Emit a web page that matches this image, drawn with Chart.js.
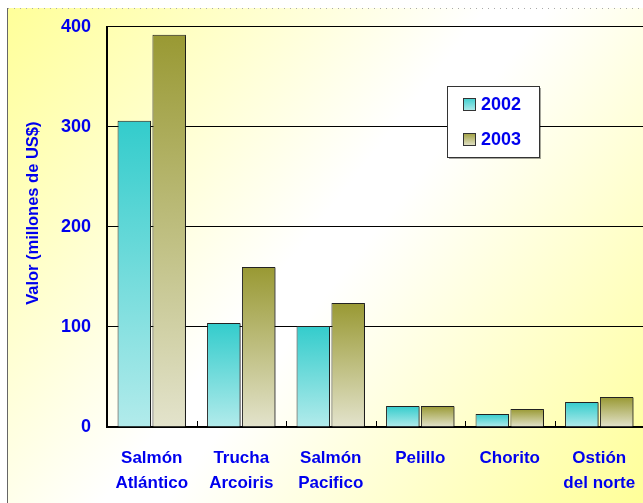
<!DOCTYPE html>
<html>
<head>
  <meta charset="UTF-8">
  <title>Valor exportaciones 2002-2003</title>
  <script src="https://cdn.jsdelivr.net/npm/chart.js"></script>
  <style>
    body {
      margin: 0;
      overflow: hidden;
      background: #fff;
    }
    #wrap {
      width: 648px;
      height: 503px;
    }
  </style>
</head>
<body>
  <div id="wrap"><canvas id="grafico" width="648" height="503"></canvas></div>

  <script>
    const especies = [
      ['Salmón', 'Atlántico'],
      ['Trucha', 'Arcoiris'],
      ['Salmón', 'Pacifico'],
      'Pelillo',
      'Chorito',
      ['Ostión', 'del norte']
    ];
    const anios = ['2002', '2003'];
    const valores2002 = [306, 104, 101, 21, 13, 25];
    const valores2003 = [392, 160, 124, 21, 18, 30];
    const ejeY = { min: 0, max: 400, paso: 100 };
    const tituloY = 'Valor (millones de US$)';

    const azul = '#0000ee';
    const fuente = "'Liberation Sans', Arial, sans-serif";
    const colores = [
      { arriba: '#33cccc', abajo: '#b2ebeb' },
      { arriba: '#999933', abajo: '#e3e3cc' }
    ];

    // degradado de cada barra, de su tope a la base
    function degradado(i) {
      return function (c) {
        const chart = c.chart;
        const y = chart.scales.y;
        if (!chart.chartArea || c.raw == null) return colores[i].arriba;
        const top = y.getPixelForValue(c.raw);
        const base = y.getPixelForValue(0);
        const g = chart.ctx.createLinearGradient(0, top, 0, base);
        g.addColorStop(0, colores[i].arriba);
        g.addColorStop(1, colores[i].abajo);
        return g;
      };
    }

    const fondo = {
      id: 'fondo',
      beforeDraw(chart) {
        const ctx = chart.ctx;
        const w = chart.width, h = chart.height;
        ctx.save();
        ctx.fillStyle = '#ffffff';
        ctx.fillRect(0, 0, w, h);
        const g = ctx.createLinearGradient(7, 8, 643, 503);
        g.addColorStop(0, '#ffff99');
        g.addColorStop(0.47, '#ffffff');
        g.addColorStop(0.53, '#ffffff');
        g.addColorStop(1, '#ffff99');
        ctx.fillStyle = g;
        ctx.fillRect(7, 8, w - 7, h - 8);
        // borde punteado superior y linea izquierda
        ctx.strokeStyle = '#aaaaaa';
        ctx.setLineDash([1, 5]);
        ctx.beginPath();
        ctx.moveTo(8, 8.5);
        ctx.lineTo(w, 8.5);
        ctx.stroke();
        ctx.setLineDash([]);
        ctx.strokeStyle = '#666666';
        ctx.beginPath();
        ctx.moveTo(7.5, 8);
        ctx.lineTo(7.5, h);
        ctx.stroke();
        ctx.restore();
      }
    };

    const sombra = {
      id: 'sombra',
      beforeDatasetsDraw(chart) {
        const ctx = chart.ctx;
        ctx.save();
        ctx.shadowColor = 'rgba(0,0,0,0.45)';
        ctx.shadowOffsetX = 2;
        ctx.shadowOffsetY = 1;
        ctx.shadowBlur = 0;
      },
      afterDatasetsDraw(chart) {
        chart.ctx.restore();
      }
    };

    // marcas pequeñas entre categorias, hacia dentro
    const marcas = {
      id: 'marcas',
      afterDatasetsDraw(chart) {
        const x = chart.scales.x;
        const ctx = chart.ctx;
        const base = chart.chartArea.bottom;
        ctx.save();
        ctx.strokeStyle = '#000';
        ctx.lineWidth = 1;
        for (let i = 1; i < especies.length; i++) {
          const px = Math.round((x.getPixelForTick(i - 1) + x.getPixelForTick(i)) / 2) + 0.5;
          ctx.beginPath();
          ctx.moveTo(px, base);
          ctx.lineTo(px, base - 6);
          ctx.stroke();
        }
        ctx.restore();
      }
    };

    const leyenda = {
      id: 'leyenda',
      afterDraw(chart) {
        const ctx = chart.ctx;
        const bx = 447, by = 86, bw = 92, bh = 71;
        ctx.save();
        ctx.fillStyle = 'rgba(0,0,0,0.35)';
        ctx.fillRect(bx + 2, by + 2, bw, bh);
        ctx.fillStyle = '#ffffff';
        ctx.fillRect(bx, by, bw, bh);
        ctx.strokeStyle = '#333';
        ctx.lineWidth = 1;
        ctx.strokeRect(bx + 0.5, by + 0.5, bw, bh);
        chart.data.datasets.forEach((ds, i) => {
          const cy = by + 18 + i * 35;
          const g = ctx.createLinearGradient(0, cy - 7, 0, cy + 7);
          g.addColorStop(0, colores[i].arriba);
          g.addColorStop(1, colores[i].abajo);
          ctx.fillStyle = g;
          ctx.fillRect(bx + 16, cy - 6, 13, 13);
          ctx.strokeStyle = '#333';
          ctx.strokeRect(bx + 16.5, cy - 5.5, 12, 12);
          ctx.fillStyle = azul;
          ctx.font = 'bold 18px ' + fuente;
          ctx.textBaseline = 'middle';
          ctx.fillText(ds.label, bx + 34, cy + 1);
        });
        ctx.restore();
      }
    };

    const ctx = document.getElementById('grafico').getContext('2d');
    const chart = new Chart(ctx, {
      type: 'bar',
      data: {
        labels: especies,
        datasets: [
          {
            label: anios[0],
            data: valores2002,
            backgroundColor: degradado(0),
            borderColor: '#222',
            borderWidth: 1
          },
          {
            label: anios[1],
            data: valores2003,
            backgroundColor: degradado(1),
            borderColor: '#222',
            borderWidth: 1
          }
        ]
      },
      options: {
        responsive: false,
        animation: false,
        devicePixelRatio: 1,
        categoryPercentage: 0.78,
        barPercentage: 0.96,
        layout: { padding: { top: 26, right: 4, left: 0, bottom: 0 } },
        plugins: {
          legend: { display: false },
          tooltip: { enabled: false }
        },
        scales: {
          x: {
            grid: { display: false },
            border: { color: '#000', width: 2 },
            ticks: {
              color: azul,
              font: { family: fuente, size: 17, weight: 'bold', lineHeight: 1.45 },
              padding: 11,
              maxRotation: 0,
              autoSkip: false
            },
            afterFit(scale) { scale.height = 76; }
          },
          y: {
            min: ejeY.min,
            max: ejeY.max,
            grid: { color: '#000', lineWidth: 1, drawTicks: false },
            border: { color: '#000', width: 2 },
            ticks: {
              stepSize: ejeY.paso,
              color: azul,
              font: { family: fuente, size: 18, weight: 'bold' },
              padding: 16
            },
            title: {
              display: true,
              text: '      ' + tituloY,
              color: azul,
              font: { family: fuente, size: 16.5, weight: 'bold' },
              padding: { top: 24, bottom: 0 }
            },
            afterFit(scale) { scale.width = 107; }
          }
        }
      },
      plugins: [fondo, sombra, marcas, leyenda]
    });
  </script>
</body>
</html>
